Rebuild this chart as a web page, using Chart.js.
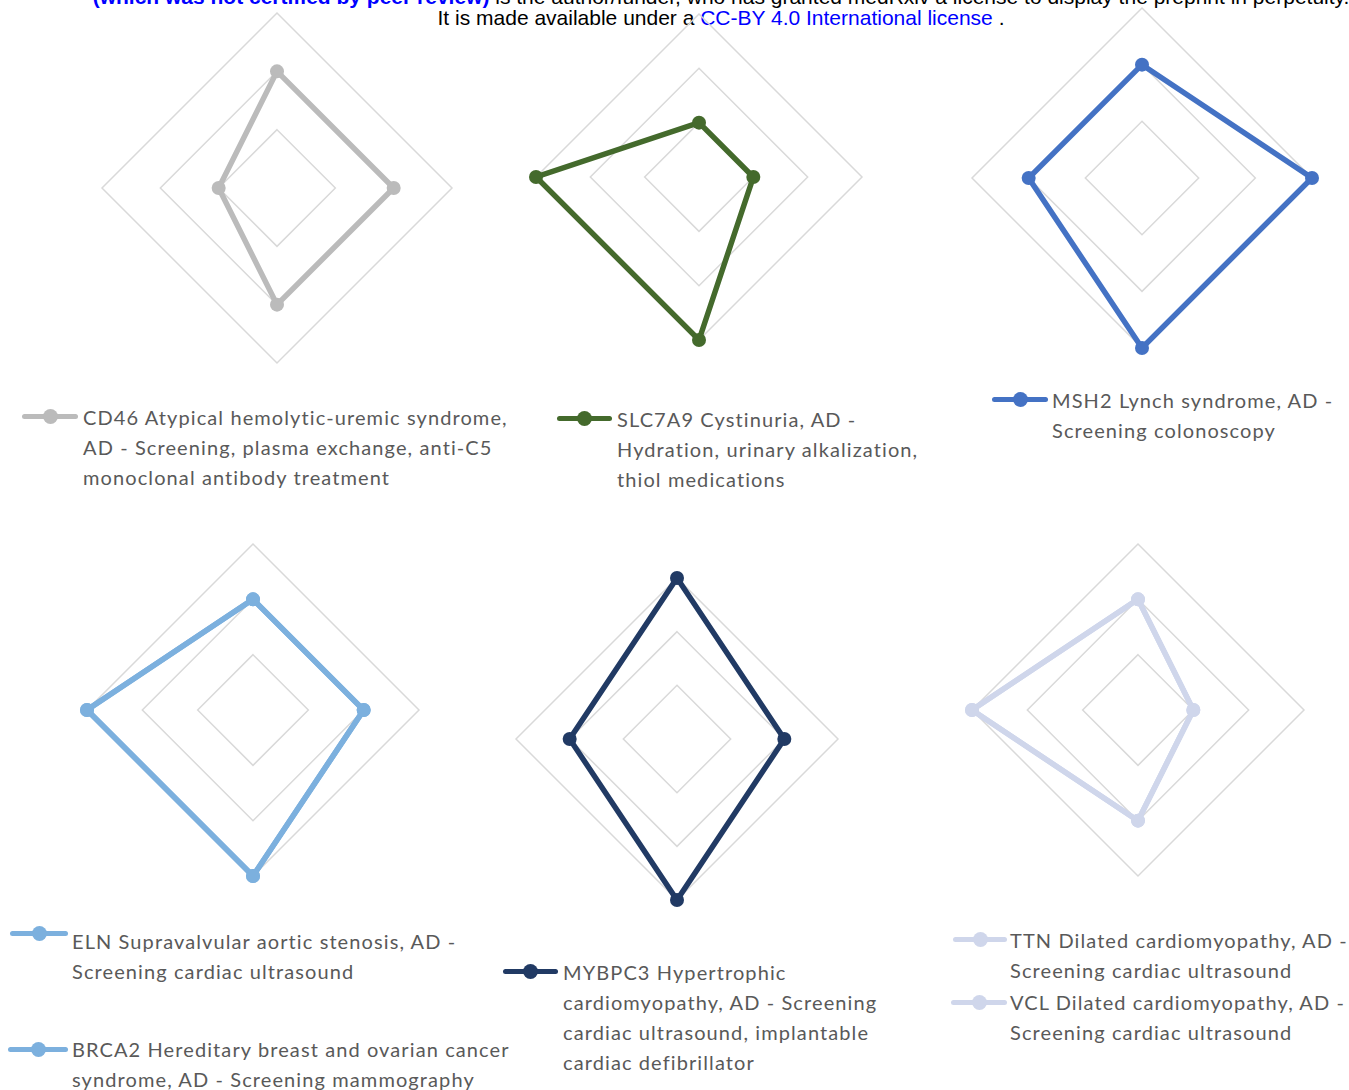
<!DOCTYPE html>
<html>
<head>
<meta charset="utf-8">
<script src="https://cdn.jsdelivr.net/npm/chart.js@4.4.0/dist/chart.umd.min.js"></script>
<style>
  html, body { margin: 0; padding: 0; background: #fff; }
  body { width: 1349px; height: 1090px; position: relative; overflow: hidden; }
  .hdr { position: absolute; left: 0; width: 1442px; text-align: center; white-space: nowrap;
         font-family: "Liberation Sans", Arial, sans-serif; font-size: 21px; line-height: 22px; color: #000; }
  .hdr b, .hdr a { color: #0000ff; text-decoration: none; }
  canvas { position: absolute; }
  .leg-mark { position: absolute; height: 5px; border-radius: 3px; }
  .leg-mark i { position: absolute; left: 50%; top: 50%; width: 15px; height: 15px; margin: -7.5px 0 0 -7.5px;
                border-radius: 50%; background: inherit; }
  .leg-text { position: absolute; font-family: Lato, "Open Sans", sans-serif; font-size: 20px;
              letter-spacing: 1.1px; line-height: 30px; color: #595959; white-space: pre; }
</style>
</head>
<body>
<div class="hdr" style="top:-14px"><b>(which was not certified by peer review)</b> is the author/funder, who has granted medRxiv a license to display the preprint in perpetuity.</div>
<div class="hdr" style="top:7px">It is made available under a <a>CC-BY 4.0 International license</a> .</div>

<script>
// radar axes (no labels shown in the figure)
var axisLabels = ["Axis 1", "Axis 2", "Axis 3", "Axis 4"];
var tickValues = [0, 1, 2, 3];

// series names
var seriesNames = [
  "CD46 Atypical hemolytic-uremic syndrome,\nAD - Screening, plasma exchange, anti-C5\nmonoclonal antibody treatment",
  "SLC7A9 Cystinuria, AD -\nHydration, urinary alkalization,\nthiol medications",
  "MSH2 Lynch syndrome, AD -\nScreening colonoscopy",
  "ELN Supravalvular aortic stenosis, AD -\nScreening cardiac ultrasound",
  "BRCA2 Hereditary breast and ovarian cancer\nsyndrome, AD - Screening mammography",
  "MYBPC3 Hypertrophic\ncardiomyopathy, AD - Screening\ncardiac ultrasound, implantable\ncardiac defibrillator",
  "TTN Dilated cardiomyopathy, AD -\nScreening cardiac ultrasound",
  "VCL Dilated cardiomyopathy, AD -\nScreening cardiac ultrasound"
];

// series values (top, right, bottom, left)
var cd46   = [2, 2, 2, 1];
var slc7a9 = [1, 1, 3, 3];
var msh2   = [2, 3, 3, 2];
var eln    = [2, 2, 3, 3];
var brca2  = [2, 2, 3, 3];
var mybpc3 = [3, 2, 3, 2];
var ttn    = [2, 1, 2, 3];
var vcl    = [2, 1, 2, 3];

var seriesValues = [cd46, slc7a9, msh2, eln, brca2, mybpc3, ttn, vcl];
var seriesColors = ["#bbbbbb", "#446a2c", "#4472c4", "#7cb0de", "#7cb0de", "#213a64", "#cfd6eb", "#cfd6eb"];

// layout: chart centre / outer radius, and which series go in each
var panels = [
  { cx: 277,  cy: 188, r: 175, series: [0] },
  { cx: 699,  cy: 177, r: 163, series: [1] },
  { cx: 1142, cy: 178, r: 170, series: [2] },
  { cx: 253,  cy: 710, r: 166, series: [3, 4] },
  { cx: 677,  cy: 739, r: 161, series: [5] },
  { cx: 1138, cy: 710, r: 166, series: [6, 7] }
];

// legend placement: marker from x0 to x1 at my, text left tx, first line centre ty
var legendPos = [
  { x0: 22,  x1: 78,   my: 416,  tx: 83,   ty: 417 },
  { x0: 557, x1: 612,  my: 418,  tx: 617,  ty: 419 },
  { x0: 992, x1: 1048, my: 399,  tx: 1052, ty: 400 },
  { x0: 10,  x1: 68,   my: 933,  tx: 72,   ty: 941 },
  { x0: 8,   x1: 68,   my: 1049, tx: 72,   ty: 1049 },
  { x0: 503, x1: 558,  my: 971,  tx: 563,  ty: 972 },
  { x0: 953, x1: 1007, my: 939,  tx: 1010, ty: 940 },
  { x0: 951, x1: 1007, my: 1002, tx: 1010, ty: 1002 }
];

var PAD = 12;

panels.forEach(function (p) {
  var size = 2 * p.r + 2 * PAD;
  var canvas = document.createElement("canvas");
  canvas.width = size;
  canvas.height = size;
  canvas.style.left = (p.cx - p.r - PAD) + "px";
  canvas.style.top = (p.cy - p.r - PAD) + "px";
  document.body.appendChild(canvas);

  var datasets = p.series.map(function (i) {
    return {
      label: seriesNames[i],
      data: seriesValues[i],
      borderColor: seriesColors[i],
      backgroundColor: seriesColors[i],
      pointBackgroundColor: seriesColors[i],
      pointBorderColor: seriesColors[i],
      borderWidth: 5.5,
      pointRadius: 7,
      pointBorderWidth: 0,
      fill: false
    };
  });

  new Chart(canvas.getContext("2d"), {
    type: "radar",
    data: { labels: axisLabels, datasets: datasets },
    options: {
      responsive: false,
      animation: false,
      layout: { padding: PAD },
      plugins: { legend: { display: false }, tooltip: { enabled: false } },
      scales: {
        r: {
          min: tickValues[0],
          max: tickValues[tickValues.length - 1],
          ticks: { display: false, stepSize: 1 },
          pointLabels: { display: false },
          angleLines: { display: false },
          grid: { color: "#d9d9d9", lineWidth: 1.5 }
        }
      }
    }
  });
});

// html legends built from the series
legendPos.forEach(function (lp, i) {
  var mark = document.createElement("div");
  mark.className = "leg-mark";
  mark.style.left = lp.x0 + "px";
  mark.style.width = (lp.x1 - lp.x0) + "px";
  mark.style.top = (lp.my - 2.5) + "px";
  mark.style.background = seriesColors[i];
  mark.appendChild(document.createElement("i"));
  document.body.appendChild(mark);

  var txt = document.createElement("div");
  txt.className = "leg-text";
  txt.style.left = lp.tx + "px";
  txt.style.top = (lp.ty - 15) + "px";
  txt.textContent = seriesNames[i];
  document.body.appendChild(txt);
});
</script>
</body>
</html>
